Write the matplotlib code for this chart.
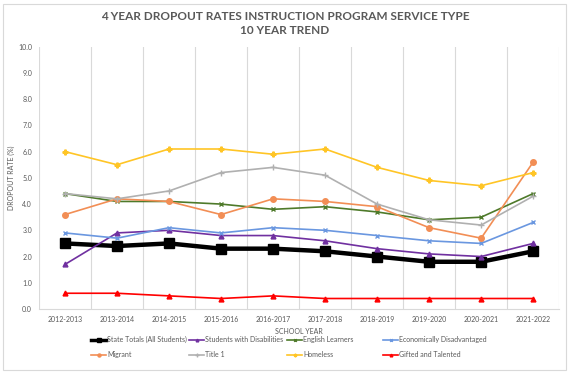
import numpy as np
import matplotlib.pyplot as plt
from matplotlib.patches import Rectangle

# school years on the x axis
years = ["2012-2013", "2013-2014", "2014-2015", "2015-2016", "2016-2017",
         "2017-2018", "2018-2019", "2019-2020", "2020-2021", "2021-2022"]

state_totals = [2.5, 2.4, 2.5, 2.3, 2.3, 2.2, 2.0, 1.8, 1.8, 2.2]
disabilities = [1.7, 2.9, 3.0, 2.8, 2.8, 2.6, 2.3, 2.1, 2.0, 2.5]
english_learners = [4.4, 4.1, 4.1, 4.0, 3.8, 3.9, 3.7, 3.4, 3.5, 4.4]
econ_disadv = [2.9, 2.7, 3.1, 2.9, 3.1, 3.0, 2.8, 2.6, 2.5, 3.3]
migrant = [3.6, 4.2, 4.1, 3.6, 4.2, 4.1, 3.9, 3.1, 2.7, 5.6]
title_1 = [4.4, 4.2, 4.5, 5.2, 5.4, 5.1, 4.0, 3.4, 3.2, 4.3]
homeless = [6.0, 5.5, 6.1, 6.1, 5.9, 6.1, 5.4, 4.9, 4.7, 5.2]
gifted = [0.6, 0.6, 0.5, 0.4, 0.5, 0.4, 0.4, 0.4, 0.4, 0.4]

names = ["State Totals (All Students)", "Students with Disabilities",
         "English Learners", "Economically Disadvantaged",
         "Migrant", "Title 1", "Homeless", "Gifted and Talented"]
series = [state_totals, disabilities, english_learners, econ_disadv,
          migrant, title_1, homeless, gifted]

# (color, marker, linewidth, markersize)
styles = [
    ("black", "s", 3.2, 6.5),
    ("#7030A0", "^", 1.2, 3.5),
    ("#4E7A2A", "x", 1.2, 3.5),
    ("#6A97E0", "x", 1.2, 3.5),
    ("#F28E55", "o", 1.2, 4.0),
    ("#B0B0B0", "+", 1.2, 4.0),
    ("#FFC526", "P", 1.2, 3.5),
    ("#FF0000", "^", 1.2, 3.5),
]

txt = "#595959"
plt.rcParams["font.family"] = ["Lato", "DejaVu Sans"]

fig = plt.figure(figsize=(5.7, 3.73), dpi=100)
ax = fig.add_axes([0.0684, 0.1716, 0.9126, 0.7032])

x = np.arange(len(years))
lines = []
for name, vals, (c, m, lw, ms) in zip(names, series, styles):
    ln, = ax.plot(x, vals, color=c, marker=m, lw=lw, ms=ms,
                  markeredgewidth=1.0, label=name)
    lines.append(ln)

ax.set_xlim(-0.5, len(years) - 0.5)
ax.set_ylim(0, 10)
ax.set_yticks(np.arange(0, 10.5, 1.0))
ax.set_yticklabels(["%.1f" % v for v in np.arange(0, 10.5, 1.0)])
ax.set_xticks(x)
ax.set_xticklabels(years)
ax.tick_params(axis="both", length=0, labelsize=5, colors=txt)
ax.tick_params(axis="x", pad=5)
ax.tick_params(axis="y", pad=5)

# vertical gridlines between categories
for gx in np.arange(-0.5, len(years), 1.0):
    ax.axvline(gx, color="#D9D9D9", lw=0.8, zorder=0)

for s in ["top", "right", "left"]:
    ax.spines[s].set_visible(False)
ax.spines["bottom"].set_color("#D9D9D9")
ax.spines["bottom"].set_linewidth(0.8)

ax.set_xlabel("SCHOOL YEAR", fontsize=5, color=txt, labelpad=4)
ax.set_ylabel("DROPOUT RATE (%)", fontsize=5, color=txt, labelpad=2)

fig.text(0.5, 0.955, "4 YEAR DROPOUT RATES INSTRUCTION PROGRAM SERVICE TYPE",
         ha="center", va="center", fontsize=8.5, fontweight="bold", color=txt)
fig.text(0.5, 0.917, "10 YEAR TREND",
         ha="center", va="center", fontsize=8.5, fontweight="bold", color=txt)

# legend: four columns laid out like the Excel one
col_x = [91, 189, 287, 383]
for j, cx in enumerate(col_x):
    leg = fig.legend([lines[j], lines[j + 4]], [names[j], names[j + 4]],
                     loc="upper left", bbox_to_anchor=(cx / 570, 1 - 336 / 373),
                     frameon=False, fontsize=5, handlelength=2.2,
                     handletextpad=0.15, borderpad=0, borderaxespad=0,
                     labelspacing=1.15, markerscale=0.55)
    for t in leg.get_texts():
        t.set_color(txt)
    leg.get_lines()[0].set_linewidth(min(lines[j].get_linewidth(), 2.5))

# chart border
fig.patches.append(Rectangle((3 / 570, 3 / 373), 563 / 570, 366 / 373,
                             transform=fig.transFigure, fill=False,
                             edgecolor="#D9D9D9", lw=0.8))

fig.savefig("out.png", dpi=100)
